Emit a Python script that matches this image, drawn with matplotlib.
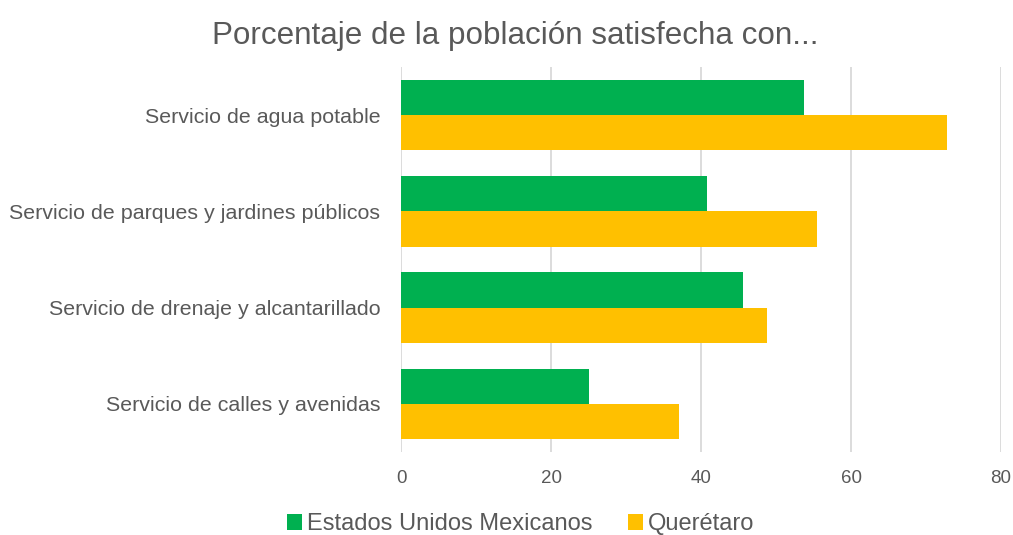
import matplotlib
matplotlib.use("Agg")
import matplotlib.pyplot as plt
import numpy as np

plt.rcParams['font.family'] = ['Liberation Sans', 'DejaVu Sans']

categorias = ["Servicio de agua potable",
              "Servicio de parques y jardines públicos",
              "Servicio de drenaje y alcantarillado",
              "Servicio de calles y avenidas"]
series = ["Estados Unidos Mexicanos", "Querétaro"]
nacional = [53.7, 40.8, 45.6, 25.1]
queretaro = [72.8, 55.4, 48.8, 37.0]
ticks_x = [0, 20, 40, 60, 80]

VERDE = "#00B050"
AMARILLO = "#FFC000"
GRIS = "#595959"

fig = plt.figure(figsize=(10.13, 5.35), dpi=100)
ax = fig.add_axes((401 / 1013, 1 - 452 / 535, 600 / 1013, 385 / 535))

y = np.arange(len(categorias))
h = 0.365
ax.barh(y - h / 2, nacional, height=h, color=VERDE, label=series[0], zorder=3)
ax.barh(y + h / 2, queretaro, height=h, color=AMARILLO, label=series[1], zorder=3)

ax.set_ylim(len(categorias) - 0.5, -0.5)
ax.set_xlim(0, 80)
ax.set_xticks(ticks_x)
ax.set_yticks(y)
ax.set_yticklabels(categorias, fontsize=15.4, color=GRIS)
ax.tick_params(axis='x', labelsize=13.5, labelcolor=GRIS, length=0, pad=13)
ax.tick_params(axis='y', length=0, pad=15)
ax.grid(axis='x', color="#D9D9D9", linewidth=1.3, zorder=0)
for s in ax.spines.values():
    s.set_visible(False)

fig.text(0.509, 1 - 36 / 535, "Porcentaje de la población satisfecha con...",
         ha='center', va='center', fontsize=22.6, color=GRIS)

fig.legend(loc='center', bbox_to_anchor=(0.514, 1 - 524 / 535), ncol=2,
           frameon=False, fontsize=17, handlelength=0.64, handleheight=0.64,
           handletextpad=0.2, columnspacing=1.5, labelcolor=GRIS)

fig.savefig("out.png", dpi=100)
